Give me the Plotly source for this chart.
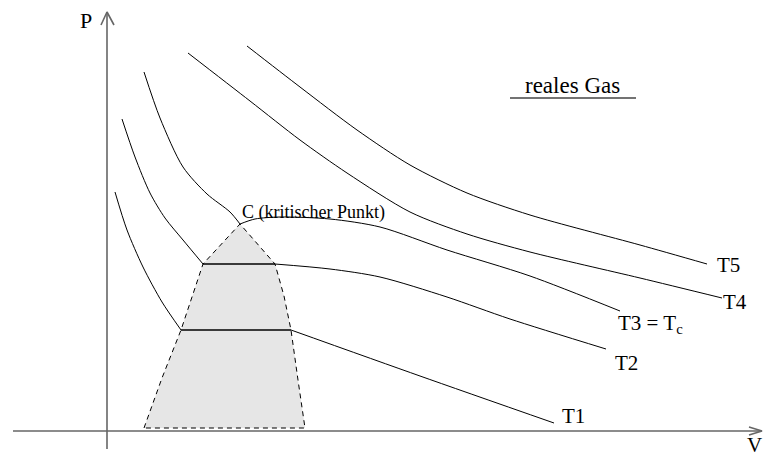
import plotly.graph_objects as go

# diagram drawn in picture coordinates (x right, y down)
W, H = 763, 460

# isotherms, left (liquid) branch
t1_left_x = [115, 127, 143, 162, 181]
t1_left_y = [192, 230, 267, 302, 330]
t2_left_x = [122, 135, 150, 165, 183, 203]
t2_left_y = [119, 157, 193, 218, 240, 264]
t3_left_x = [144, 160, 183, 207, 230, 240]
t3_left_y = [72, 118, 167, 194, 212, 224]

# horizontal two-phase segments
t1_flat_x = [181, 291]
t1_flat_y = [330, 330]
t2_flat_x = [203, 275]
t2_flat_y = [264, 264]

# isotherms, right (gas) branch
t1_right_x = [291, 420, 554]
t1_right_y = [330, 376, 423]
t2_right_x = [275, 330, 380, 447, 510, 606]
t2_right_y = [264, 269, 277, 297, 319, 349]
t3_right_x = [240, 255, 280, 330, 380, 447, 530, 620]
t3_right_y = [224, 219, 217, 219, 227, 250, 276, 311]
t4_x = [188, 250, 300, 347, 410, 467, 530, 640, 722]
t4_y = [53, 101, 140, 173, 212, 234, 252, 278, 298]
t5_x = [247, 300, 357, 410, 467, 530, 640, 707]
t5_y = [46, 87, 130, 165, 193, 215, 245, 264]

# two-phase dome (dashed, shaded)
dome_x = [144, 162, 181, 203, 240, 275, 284, 291, 298, 305, 144]
dome_y = [428, 378, 330, 264, 224, 264, 296, 330, 380, 428, 428]

# axes
p_axis_x = [107, 107]
p_axis_y = [449, 12]
p_head_x = [101, 107, 114]
p_head_y = [25, 12, 25]
v_axis_x = [13, 762]
v_axis_y = [431, 431]
v_head_x = [749, 762, 749]
v_head_y = [427, 431, 435]

labels = [
    ("P", 86, 20, 22),
    ("V", 754, 445, 21),
    ("T1", 573, 416, 21),
    ("T2", 626, 363, 21),
    ("T3 = T<sub>c</sub>", 650, 324, 21),
    ("T4", 735, 302, 21),
    ("T5", 728, 265, 21),
    ("C (kritischer Punkt)", 313, 212, 18),
    ("reales Gas", 572, 85, 23),
]
underline_x = [510, 636]
underline_y = [98, 98]

serif = "Liberation Serif, Times New Roman, DejaVu Serif, serif"

fig = go.Figure()

fig.add_trace(go.Scatter(
    x=dome_x, y=dome_y, mode="lines", fill="toself", fillcolor="#e6e6e6",
    line=dict(color="black", width=1, dash="5px,4px"), hoverinfo="skip"))

curves = [
    (t1_left_x, t1_left_y), (t2_left_x, t2_left_y), (t3_left_x, t3_left_y),
    (t1_right_x, t1_right_y), (t2_right_x, t2_right_y), (t3_right_x, t3_right_y),
    (t4_x, t4_y), (t5_x, t5_y),
]
for cx, cy in curves:
    fig.add_trace(go.Scatter(x=cx, y=cy, mode="lines",
                             line=dict(color="black", width=1, shape="spline", smoothing=0.8),
                             hoverinfo="skip"))

for cx, cy in [(t1_flat_x, t1_flat_y), (t2_flat_x, t2_flat_y)]:
    fig.add_trace(go.Scatter(x=cx, y=cy, mode="lines",
                             line=dict(color="black", width=1.3), hoverinfo="skip"))

for cx, cy in [(p_axis_x, p_axis_y), (v_axis_x, v_axis_y),
               (p_head_x, p_head_y), (v_head_x, v_head_y)]:
    fig.add_trace(go.Scatter(x=cx, y=cy, mode="lines",
                             line=dict(color="#666666", width=1.6), hoverinfo="skip"))

fig.add_trace(go.Scatter(x=underline_x, y=underline_y, mode="lines",
                         line=dict(color="#444444", width=1.6), hoverinfo="skip"))

for text, lx, ly, size in labels:
    fig.add_annotation(x=lx, y=ly, text=text, showarrow=False,
                       xanchor="center", yanchor="middle",
                       font=dict(family=serif, size=size, color="black"))

fig.update_layout(
    width=W, height=H,
    margin=dict(l=0, r=0, t=0, b=0),
    paper_bgcolor="white", plot_bgcolor="white",
    showlegend=False,
    font=dict(family=serif),
    xaxis=dict(range=[0, W], visible=False, fixedrange=True),
    yaxis=dict(range=[H, 0], visible=False, fixedrange=True),
)

# drop the page's default body margin so the figure sits at the window corner
fig.write_html("out.html", config={"displayModeBar": False},
               post_script="document.body.style.margin='0';document.body.style.overflow='hidden';")
